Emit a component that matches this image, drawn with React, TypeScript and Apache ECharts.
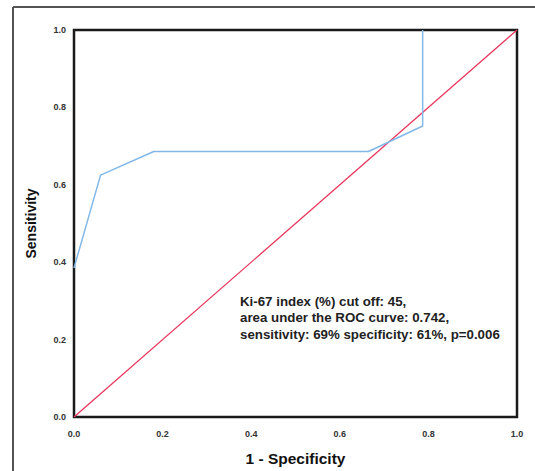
import React, { useEffect, useRef } from "react";
import * as echarts from "echarts";

const rocFpr = [0, 0.06, 0.18, 0.665, 0.787, 0.787];
const rocTpr = [0.385, 0.625, 0.686, 0.686, 0.752, 1.0];
const refLine = [0, 1];
const annotation = [
  "Ki-67 index (%) cut off: 45,",
  "area under the ROC curve: 0.742,",
  "sensitivity: 69% specificity: 61%, p=0.006",
];
const xTitle = "1 - Specificity";
const yTitle = "Sensitivity";

export default function App() {
  const ref = useRef<HTMLDivElement>(null);
  useEffect(() => {
    const chart = echarts.init(ref.current!, null, { renderer: "svg" });
    const font = "'Liberation Sans', Arial, sans-serif";
    chart.setOption({
      animation: false,
      backgroundColor: "#fff",
      grid: {
        left: 74,
        top: 30,
        width: 443,
        height: 392,
        show: true,
        borderColor: "#1a1a1a",
        borderWidth: 2.5,
      },
      xAxis: {
        type: "value",
        min: 0,
        max: 1,
        interval: 0.2,
        axisLine: { show: false },
        axisTick: { show: false },
        splitLine: { show: false },
        axisLabel: {
          formatter: (v: number) => v.toFixed(1),
          fontSize: 9,
          fontWeight: "bold",
          color: "#333",
          fontFamily: font,
          margin: 12,
        },
        name: xTitle,
        nameLocation: "middle",
        nameGap: 33,
        nameTextStyle: { fontSize: 15.5, fontWeight: "bold", color: "#111", fontFamily: font },
      },
      yAxis: {
        type: "value",
        min: 0,
        max: 1,
        interval: 0.2,
        axisLine: { show: false },
        axisTick: { show: false },
        splitLine: { show: false },
        axisLabel: {
          formatter: (v: number) => v.toFixed(1),
          fontSize: 9,
          fontWeight: "bold",
          color: "#333",
          fontFamily: font,
          margin: 8,
        },
        name: yTitle,
        nameLocation: "middle",
        nameGap: 36,
        nameTextStyle: { fontSize: 14, fontWeight: "bold", color: "#111", fontFamily: font },
      },
      series: [
        {
          type: "line",
          data: refLine.map((v) => [v, v]),
          symbol: "none",
          lineStyle: { color: "#e8365d", width: 1.3 },
          z: 2,
        },
        {
          type: "line",
          data: rocFpr.map((x, i) => [x, rocTpr[i]]),
          symbol: "none",
          lineStyle: { color: "#82b8e8", width: 1.5 },
          z: 3,
        },
      ],
      graphic: [
        { type: "line", shape: { x1: 13, y1: 7, x2: 535, y2: 7 }, style: { stroke: "#555", lineWidth: 2 } },
        { type: "line", shape: { x1: 13, y1: 7, x2: 13, y2: 471 }, style: { stroke: "#555", lineWidth: 2 } },
        ...annotation.map((t, i) => ({
          type: "text",
          left: 240,
          top: 295 + i * 16.4,
          style: {
            text: t,
            fontSize: 13.3,
            fontWeight: "bold",
            fill: "#222",
            fontFamily: font,
          },
        })),
      ],
    });
    return () => chart.dispose();
  }, []);
  return (
    <div
      ref={ref}
      style={{ position: "absolute", left: 0, top: 0, width: 535, height: 471 }}
    />
  );
}
